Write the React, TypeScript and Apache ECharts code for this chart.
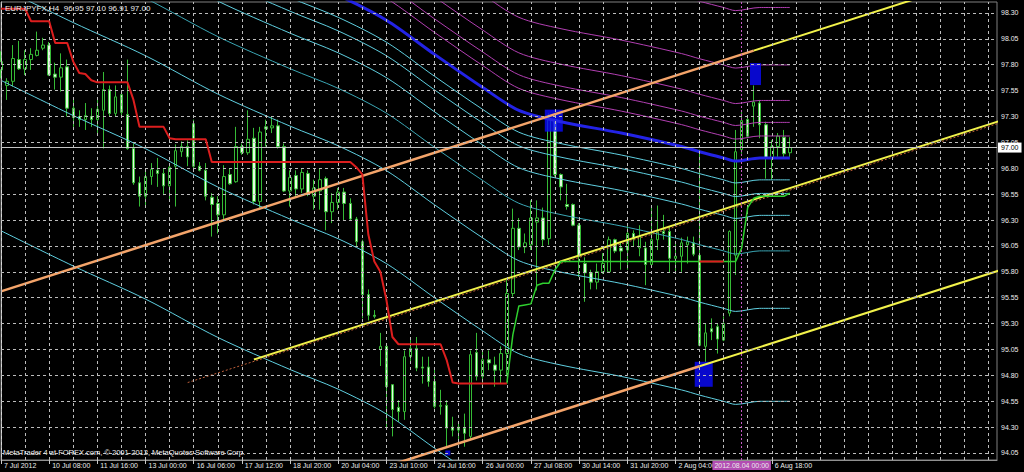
import React, { useEffect, useRef } from "react";
import * as echarts from "echarts";

// ---- instrument / header ----
const symbolName = "EURJPYFX,H4";
const copyrightText = "MetaTrader 4 at FOREX.com, © 2001-2012, MetaQuotes Software Corp.";

// ---- H4 bars (index 0 = first visible bar) ----
const opens = [
  97.75, 97.6, 97.64, 97.85, 97.76, 97.85, 97.89, 97.96, 97.99, 97.71,
  97.68, 97.78, 97.38, 97.3, 97.27, 97.3, 97.27, 97.36, 97.56, 97.33,
  97.51, 97.32, 96.99, 96.66, 96.53, 96.72, 96.78, 96.75, 96.63, 96.82,
  96.96, 97.01, 97.23, 96.82, 96.78, 96.52, 96.46, 96.35, 96.74, 96.67,
  97.01, 96.95, 97.09, 96.48, 97.2, 97.19, 97.21, 97.01, 96.58, 96.73,
  96.6, 96.75, 96.53, 96.58, 96.7, 96.38, 96.47, 96.57, 96.46, 96.31,
  96.09, 95.58, 95.38, 95.05, 95.08, 94.71, 94.49, 94.45, 94.98, 95.06,
  94.88, 94.88, 94.74, 94.5, 94.51, 94.3, 94.27, 94.29, 94.21, 95.02,
  94.79, 94.95, 94.9, 94.85, 95.01, 95.59, 96.22, 96.04, 96.06, 96.28,
  96.32, 96.12, 97.27, 96.74, 96.45, 96.45, 96.25, 95.88, 95.79, 95.7,
  95.8, 95.8, 96.11, 96.03, 96.01, 96.17, 96.03, 96.03, 95.87, 96.11,
  96.19, 96.19, 95.93, 95.95, 96.06, 96.08, 95.96, 95.08, 95.25, 95.27,
  95.14, 95.4, 95.96, 96.98, 97.27, 97.4, 97.43, 97.22, 96.9, 97.01,
  97.1, 96.95,
];
const highs = [
  97.93, 97.67, 97.99, 98.03, 97.94, 97.96, 98.12, 98.06, 98.02, 97.82,
  97.91, 97.85, 97.46, 97.36, 97.43, 97.38, 97.46, 97.73, 97.6, 97.6,
  97.54, 97.85, 97.04, 96.72, 96.78, 96.85, 96.9, 96.8, 96.85, 97.03,
  97.06, 97.07, 97.27, 96.86, 96.85, 96.56, 96.53, 96.83, 96.8, 97.2,
  97.04, 97.36, 97.19, 97.2, 97.27, 97.3, 97.27, 97.04, 96.78, 96.78,
  96.8, 96.78, 96.69, 96.8, 96.72, 96.56, 96.61, 96.61, 96.51, 96.33,
  96.11, 95.63, 95.43, 95.21, 95.08, 94.71, 94.56, 95.04, 95.17, 95.17,
  94.98, 94.98, 94.87, 94.66, 94.56, 94.4, 94.34, 94.43, 95.04, 95.21,
  95.03, 95.04, 94.98, 95.08, 95.72, 96.41, 96.32, 96.17, 96.49, 96.49,
  96.42, 97.33, 97.28, 96.75, 96.65, 96.46, 96.27, 95.94, 95.82, 95.88,
  95.98, 96.14, 96.12, 96.09, 96.27, 96.2, 96.25, 96.09, 96.44, 96.44,
  96.35, 96.24, 96.08, 96.13, 96.14, 96.14, 96.98, 95.3, 95.35, 95.3,
  95.37, 96.2, 97.17, 97.36, 97.31, 97.6, 97.46, 97.25, 97.07, 97.14,
  97.17, 97.1,
];
const lows = [
  97.67, 97.46, 97.59, 97.75, 97.7, 97.75, 97.88, 97.94, 97.69, 97.56,
  97.54, 97.3, 97.2, 97.2, 97.17, 97.2, 97.14, 96.99, 97.3, 97.3,
  97.3, 96.98, 96.64, 96.43, 96.43, 96.64, 96.62, 96.54, 96.49, 96.43,
  96.91, 96.82, 96.8, 96.77, 96.49, 96.14, 96.17, 96.3, 96.64, 96.66,
  96.93, 96.93, 96.45, 96.41, 97.01, 97.14, 96.99, 96.57, 96.43, 96.53,
  96.56, 96.53, 96.4, 96.4, 96.2, 96.27, 96.4, 96.3, 96.3, 96.04,
  95.35, 95.33, 95.35, 94.89, 94.3, 94.21, 94.35, 94.37, 94.92, 94.84,
  94.72, 94.69, 94.48, 94.42, 94.11, 94.21, 94.14, 94.11, 94.18, 94.75,
  94.69, 94.85, 94.69, 94.72, 94.79, 95.56, 96.01, 95.98, 96.01, 95.62,
  96.04, 96.06, 96.72, 96.49, 96.4, 96.24, 95.75, 95.51, 95.63, 95.63,
  95.78, 95.79, 95.98, 95.82, 95.82, 96.04, 95.95, 95.67, 95.85, 96.01,
  96.11, 95.79, 95.8, 95.8, 95.88, 95.95, 95.08, 94.93, 95.14, 95.01,
  95.13, 95.37, 95.77, 96.94, 97.09, 97.2, 97.09, 96.7, 96.69, 96.91,
  96.91, 96.91,
];
const closes = [
  97.83, 97.64, 97.86, 97.76, 97.85, 97.9, 97.94, 97.99, 97.7, 97.68,
  97.77, 97.38, 97.29, 97.27, 97.31, 97.27, 97.37, 97.56, 97.33, 97.49,
  97.34, 96.99, 96.66, 96.53, 96.72, 96.79, 96.75, 96.63, 96.81, 96.97,
  97.01, 96.91, 96.82, 96.78, 96.53, 96.45, 96.35, 96.72, 96.65, 97.01,
  96.95, 97.08, 96.48, 97.15, 97.18, 97.21, 97.01, 96.58, 96.71, 96.6,
  96.76, 96.55, 96.61, 96.69, 96.38, 96.47, 96.57, 96.46, 96.31, 96.09,
  95.58, 95.38, 95.37, 95.08, 94.69, 94.47, 94.45, 94.98, 95.06, 94.87,
  94.87, 94.74, 94.5, 94.51, 94.29, 94.27, 94.3, 94.24, 95.0, 94.79,
  94.95, 94.92, 94.85, 95.01, 95.59, 96.22, 96.04, 96.08, 96.32, 96.32,
  96.11, 97.27, 96.74, 96.62, 96.43, 96.25, 95.95, 95.79, 95.7, 95.8,
  95.88, 96.11, 96.0, 96.0, 96.17, 96.12, 96.14, 95.87, 96.11, 96.19,
  96.17, 95.93, 95.95, 96.08, 96.09, 95.97, 95.09, 95.21, 95.22, 95.15,
  95.3, 96.19, 96.96, 97.26, 97.11, 97.44, 97.22, 96.9, 97.01, 97.11,
  96.94, 97.0,
];

// ---- trailing stop (red while short, green while long) ----
const stopShort = [
  98.34, 98.34, 98.34, 98.34, 98.34, 98.22, 98.22, 98.22, 98.22, 98.01,
  98.01, 98.01, 97.83, 97.72, 97.71, 97.65, 97.63, 97.63, 97.63, 97.63,
  97.63, 97.63, 97.46, 97.2, 97.2, 97.2, 97.2, 97.2, 97.09, 97.08,
  97.08, 97.08, 97.08, 97.08, 97.08, 96.86, 96.86, 96.86, 96.86, 96.86,
  96.86, 96.86, 96.86, 96.86, 96.86, 96.86, 96.86, 96.86, 96.86, 96.86,
  96.86, 96.86, 96.86, 96.86, 96.86, 96.86, 96.86, 96.86, 96.86, 96.81,
  96.74, 96.16, 95.9, 95.8, 95.53, 95.17, 95.1, 95.1, 95.1, 95.1,
  95.1, 95.1, 95.1, 95.1, 94.95, 94.73, 94.72, 94.72, 94.72, 94.72,
  94.72, 94.72, 94.72, 94.72, 94.72, null, null, null, null, null,
  null, null, null, null, null, null, null, null, null, null,
  null, null, null, null, null, null, null, null, null, null,
  null, null, null, null, null, null, 95.9, 95.9, 95.9, 95.9,
  95.9, null, null, null, null, null, null, null, null, null,
  null, null,
];
const stopLong = [
  null, null, null, null, null, null, null, null, null, null,
  null, null, null, null, null, null, null, null, null, null,
  null, null, null, null, null, null, null, null, null, null,
  null, null, null, null, null, null, null, null, null, null,
  null, null, null, null, null, null, null, null, null, null,
  null, null, null, null, null, null, null, null, null, null,
  null, null, null, null, null, null, null, null, null, null,
  null, null, null, null, null, null, null, null, null, null,
  null, null, null, null, 94.72, 95.19, 95.47, 95.48, 95.49, 95.67,
  95.69, 95.69, 95.82, 95.9, 95.9, 95.9, 95.9, 95.9, 95.9, 95.9,
  95.9, 95.9, 95.9, 95.9, 95.9, 95.9, 95.9, 95.9, 95.9, 95.9,
  95.9, 95.9, 95.9, 95.9, 95.9, 95.9, 95.9, 95.9, 95.9, 95.9,
  95.9, 95.9, 95.9, 96.03, 96.42, 96.51, 96.53, 96.53, 96.53, 96.53,
  96.53, 96.56,
];

// ---- moving average with Fibonacci bands ----
const maBars = [0, 12, 24, 36, 48, 56, 64, 72, 80, 86, 93, 103, 113, 116, 120, 122, 126, 131];
const maValues = [100.0, 99.66, 99.34, 98.97, 98.66, 98.47, 98.23, 97.9, 97.58, 97.36, 97.25, 97.14, 97.01, 96.96, 96.9, 96.87, 96.9, 96.9];
const fibLevels = [0.236, 0.382, 0.618, 1, 1.618, 2.618, 4.236];
const bandUnit = 0.898;

// ---- pitchfork / channel lines: [bar, price] endpoints ----
const upperChannel = [[0, 95.611], [125, 97.936]];
const upperRay = [[125, 97.936], [166, 98.699]];
const medianRay = [[42, 94.953], [166, 97.26]];
const medianGuide = [[31, 94.73], [166, 97.24]];
const lowerChannel = [[60, 93.845], [116, 94.887]];
const lowerRay = [[116, 94.887], [166, 95.817]];

// ---- fractal markers: [bar, price] ----
const fractalMarks = [[91.8, 97.26], [125.3, 97.71], [116.7, 94.81], [74.2, 94.05]];

// ---- axes ----
const tickBars = [0, 8, 16, 24, 32, 40, 48, 56, 64, 72, 80, 88, 96, 104, 112, 128];
const tickLabels = [
  "7 Jul 2012", "10 Jul 08:00", "11 Jul 16:00", "13 Jul 00:00", "16 Jul 06:00",
  "17 Jul 12:00", "18 Jul 20:00", "20 Jul 04:00", "23 Jul 10:00", "24 Jul 16:00",
  "26 Jul 00:00", "27 Jul 08:00", "30 Jul 14:00", "31 Jul 20:00", "2 Aug 04:00",
  "6 Aug 18:00",
];
const priceTicks = [
  94.05, 94.3, 94.55, 94.8, 95.05, 95.3, 95.55, 95.8, 96.05, 96.3,
  96.55, 96.8, 97.05, 97.3, 97.55, 97.8, 98.05, 98.3,
];
const separatorBar = 123;
const separatorLabel = "2012.08.04 00:00";

const FONT = '"Liberation Sans", Arial, sans-serif';
const TEXT = "#ececec";
const markerSizes = [[18, 22], [11, 22], [18, 25], [5, 5]];

export default function App() {
  const ref = useRef<HTMLDivElement>(null);

  useEffect(() => {
    if (!ref.current) return;
    const chart = echarts.init(ref.current, null, { renderer: "svg" });

    const last = opens.length - 1;
    const header = `${symbolName}  ${opens[last].toFixed(2)} ${highs[last].toFixed(2)} ${lows[last].toFixed(2)} ${closes[last].toFixed(2)}`;

    const gridBars: number[] = [];
    for (let b = 0; b <= 164; b += 4) gridBars.push(b);

    const candles = opens.map((o, i) => [i, o, closes[i], lows[i], highs[i]]);

    const bandSeries: any[] = [];
    fibLevels.forEach((k) => {
      [1, -1].forEach((side) => {
        bandSeries.push({
          type: "line",
          z: 3,
          data: maBars.map((b, j) => [b, maValues[j] + side * k * bandUnit]),
          showSymbol: false,
          smooth: 0.3,
          lineStyle: {
            color: side > 0 ? "#b23fb2" : k === 1 ? "#3aa6b4" : "#5fcfe0",
            width: 1,
          },
          silent: true,
        });
      });
    });

    const segment = (data: number[][], color: string, width: number, type: any = "solid", z = 4) => ({
      type: "line",
      z,
      data,
      showSymbol: false,
      silent: true,
      lineStyle: { color, width, type },
    });

    chart.setOption({
      animation: false,
      backgroundColor: "#000",
      grid: {
        left: 1,
        right: 27,
        top: 2,
        bottom: 12,
        show: true,
        borderColor: "#808080",
        borderWidth: 1,
        backgroundColor: "#000",
      },
      graphic: [
        {
          type: "text",
          left: 5,
          top: 4,
          z: 100,
          style: { text: header, fill: TEXT, font: `8px ${FONT}` },
        },
        {
          type: "text",
          left: 3,
          top: 448,
          z: 100,
          style: { text: copyrightText, fill: TEXT, font: `7.5px ${FONT}` },
        },
      ],
      xAxis: {
        type: "value",
        min: 0,
        max: 165.4,
        axisLine: { show: true, lineStyle: { color: "#909090" } },
        axisTick: { show: true, customValues: tickBars, length: 4, lineStyle: { color: "#c8c8c8" } },
        splitLine: { show: false },
        axisLabel: {
          customValues: tickBars,
          formatter: (v: number) => {
            const k = tickBars.indexOf(Math.round(v));
            return k >= 0 ? tickLabels[k] : "";
          },
          color: TEXT,
          fontSize: 7,
          fontFamily: FONT,
          align: "left",
          margin: 2,
          padding: [0, 0, 0, 3],
        },
      },
      yAxis: {
        type: "value",
        position: "right",
        min: 93.982,
        max: 98.406,
        axisLine: { show: true, lineStyle: { color: "#d8d8d8" } },
        axisTick: { show: true, customValues: priceTicks, length: 3, lineStyle: { color: "#d8d8d8" } },
        splitLine: { show: false },
        axisLabel: {
          customValues: priceTicks,
          formatter: (v: number) => v.toFixed(2),
          color: TEXT,
          fontSize: 7,
          fontFamily: FONT,
          margin: 4,
        },
      },
      series: [
        {
          type: "line",
          data: [],
          z: 1,
          silent: true,
          markLine: {
            silent: true,
            symbol: ["none", "none"],
            label: { show: false },
            lineStyle: { color: "#bcbcbc", type: [3, 3], width: 1 },
            data: [
              ...priceTicks.map((v) => ({ yAxis: v })),
              ...gridBars.map((b) => ({ xAxis: b })),
            ],
          },
        },
        {
          type: "candlestick",
          z: 2,
          data: candles,
          encode: { x: 0, y: [1, 2, 3, 4] },
          barWidth: 3,
          silent: true,
          itemStyle: {
            color: "#000000",
            color0: "#e4fbe0",
            borderColor: "#36bb36",
            borderColor0: "#36bb36",
            borderWidth: 1,
          },
        },
        ...bandSeries,
        {
          type: "line",
          z: 4,
          data: maBars.map((b, j) => [b, maValues[j]]),
          showSymbol: false,
          smooth: 0.3,
          silent: true,
          lineStyle: { color: "#2323e6", width: 3 },
        },
        segment(medianGuide, "#c0603a", 1, [2, 2]),
        segment(upperChannel, "#f4a46a", 2.5),
        segment(upperRay, "#f2f24a", 2),
        segment(medianRay, "#f2f24a", 2),
        segment(lowerChannel, "#f4a46a", 2.5),
        segment(lowerRay, "#f2f24a", 2),
        {
          type: "line",
          z: 5,
          data: stopLong.map((v, i) => [i, v]),
          showSymbol: false,
          connectNulls: false,
          silent: true,
          lineStyle: { color: "#2fd02f", width: 1.5 },
        },
        {
          type: "line",
          z: 6,
          data: stopShort.map((v, i) => [i, v]),
          showSymbol: false,
          connectNulls: false,
          silent: true,
          lineStyle: { color: "#dc1e1e", width: 2 },
        },
        {
          type: "scatter",
          z: 3,
          silent: true,
          data: fractalMarks,
          symbol: "rect",
          symbolSize: (_v: any, p: any) => markerSizes[p.dataIndex],
          itemStyle: { color: "#0a0aff" },
        },
        {
          type: "line",
          data: [],
          z: 7,
          silent: true,
          markLine: {
            silent: true,
            symbol: ["none", "none"],
            data: [
              {
                yAxis: closes[last],
                lineStyle: { color: "#c4c4c4", type: "solid", width: 1 },
                label: {
                  show: true,
                  position: "end",
                  formatter: closes[last].toFixed(2),
                  color: "#000",
                  backgroundColor: "#ffffff",
                  fontSize: 7,
                  fontFamily: FONT,
                  padding: [2, 3, 1, 3],
                  distance: 1,
                },
              },
              {
                xAxis: separatorBar,
                lineStyle: { color: "#c35ac3", type: [2, 2], width: 1 },
                label: {
                  show: true,
                  position: "start",
                  formatter: separatorLabel,
                  color: "#ececec",
                  backgroundColor: "#b24db2",
                  fontSize: 7,
                  fontFamily: FONT,
                  padding: [1, 2, 1, 2],
                  distance: 1,
                },
              },
            ],
          },
        },
      ],
    });

    return () => chart.dispose();
  }, []);

  return (
    <div
      ref={ref}
      style={{ position: "fixed", left: 0, top: 0, width: 1024, height: 472, background: "#000" }}
    />
  );
}
